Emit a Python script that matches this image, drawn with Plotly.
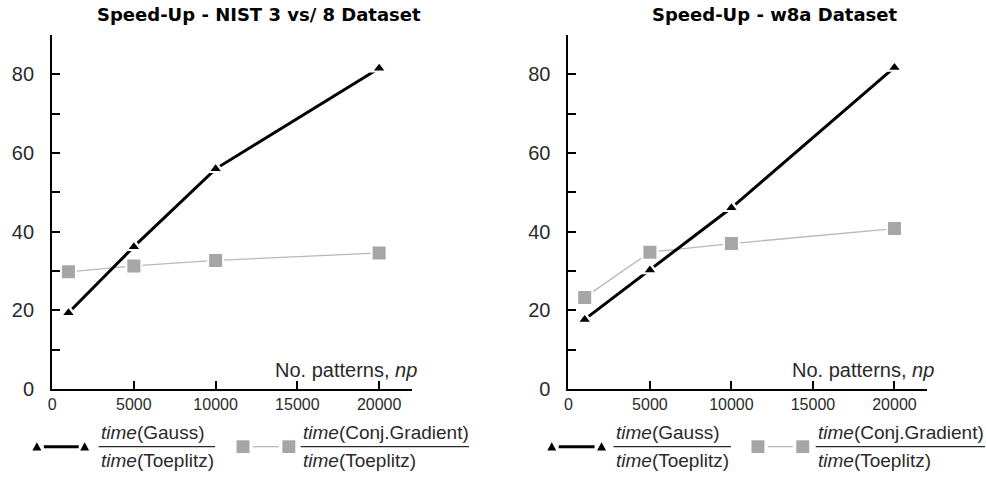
import plotly.graph_objects as go

W, H = 986, 486

# ---- data ----
np_patterns = [1000, 5000, 10000, 20000]
nist_gauss = [19.4, 36.2, 56.0, 81.6]
nist_cg = [29.8, 31.3, 32.7, 34.6]
w8a_gauss = [17.7, 30.3, 46.1, 81.8]
w8a_cg = [23.3, 34.8, 37.0, 40.8]

titles = ["Speed-Up - NIST 3 vs/ 8 Dataset", "Speed-Up - w8a Dataset"]
xtick_vals = [0, 5000, 10000, 15000, 20000]
xtick_text = ["0", "5000", "10000", "15000", "20000"]
ytick_vals = [0, 10, 20, 30, 40, 50, 60, 70, 80, 90]
ytick_text = ["0", "", "20", "", "40", "", "60", "", "80", ""]
x_label = "No. patterns, <i>np</i>"
leg_gauss = ("<i>time</i>(Gauss)", "<i>time</i>(Toeplitz)")
leg_cg = ("<i>time</i>(Conj.Gradient)", "<i>time</i>(Toeplitz)")

BLACK = "#000000"
GREY = "#a6a6a6"
GREYLINE = "#b8b8b8"
TXT = "#2a2a2a"
SANS = "Liberation Sans, Arial, sans-serif"


def px(x):
    return x / W


def py(y):
    return 1 - y / H


fig = go.Figure()

panels = [
    dict(gauss=nist_gauss, cg=nist_cg, xa="x", ya="y", x0=48.3, x1=409.5,
         title_cx=256, label_rx=417,
         leg=dict(t1=33, t2=81, l1=(40, 75), s1=240, s2=286, sl=(250, 276),
                  f1=(95, 212), f2=(298, 467))),
    dict(gauss=w8a_gauss, cg=w8a_cg, xa="x2", ya="y2", x0=566.7, x1=926.8,
         title_cx=774, label_rx=936,
         leg=dict(t1=550, t2=600, l1=(557, 593), s1=757, s2=802, sl=(767, 792),
                  f1=(612, 730), f2=(815, 985))),
]

for p in panels:
    common = dict(x=np_patterns, xaxis=p["xa"], yaxis=p["ya"], showlegend=False,
                  hoverinfo="skip")
    # conjugate gradient
    fig.add_trace(go.Scatter(y=p["cg"], mode="lines",
                             line=dict(color=GREYLINE, width=1.3), **common))
    fig.add_trace(go.Scatter(y=p["cg"], mode="markers",
                             marker=dict(symbol="square", size=17, color="white"), **common))
    fig.add_trace(go.Scatter(y=p["cg"], mode="markers",
                             marker=dict(symbol="square", size=13, color=GREY), **common))
    # gauss
    fig.add_trace(go.Scatter(y=p["gauss"], mode="lines",
                             line=dict(color=BLACK, width=3), **common))
    fig.add_trace(go.Scatter(y=p["gauss"], mode="markers",
                             marker=dict(symbol="triangle-up", size=17, color="white"), **common))
    fig.add_trace(go.Scatter(y=p["gauss"], mode="markers",
                             marker=dict(symbol="triangle-up", size=9, color=BLACK), **common))

axis_common_x = dict(range=[0, 22000], tickvals=xtick_vals, ticktext=xtick_text,
                     showgrid=False, zeroline=False, showline=True, linecolor=BLACK,
                     linewidth=2, ticks="inside", ticklen=8, tickwidth=1.5, tickcolor=BLACK,
                     tickfont=dict(family=SANS, size=16, color=TXT), fixedrange=True)
axis_common_y = dict(range=[0, 90], tickvals=ytick_vals, ticktext=ytick_text,
                     showgrid=False, zeroline=False, showline=True, linecolor=BLACK,
                     linewidth=2, ticks="inside", ticklen=8, tickwidth=1.5, tickcolor=BLACK,
                     tickfont=dict(family=SANS, size=20, color=TXT), ticklabelstandoff=12,
                     fixedrange=True)

ydom = [py(398), py(36)]
fig.update_layout(
    width=W, height=H,
    margin=dict(l=0, r=0, t=0, b=0),
    paper_bgcolor="white", plot_bgcolor="white",
    xaxis=dict(domain=[px(panels[0]["x0"]), px(panels[0]["x1"])], anchor="y", **axis_common_x),
    yaxis=dict(domain=ydom, anchor="x", **axis_common_y),
    xaxis2=dict(domain=[px(panels[1]["x0"]), px(panels[1]["x1"])], anchor="y2", **axis_common_x),
    yaxis2=dict(domain=ydom, anchor="x2", **axis_common_y),
)

annotations = []
shapes = []


def tri_path(cx, cy, s=4.5):
    pts = [(cx - s, cy + s * 0.85), (cx + s, cy + s * 0.85), (cx, cy - s)]
    return "M {} {} L {} {} L {} {} Z".format(
        px(pts[0][0]), py(pts[0][1]), px(pts[1][0]), py(pts[1][1]), px(pts[2][0]), py(pts[2][1]))


for i, p in enumerate(panels):
    annotations.append(dict(text="<b>" + titles[i] + "</b>", x=px(p["title_cx"]), y=py(15),
                            xref="paper", yref="paper", xanchor="center", yanchor="middle",
                            showarrow=False,
                            font=dict(family="DejaVu Sans", size=18, color=BLACK)))
    annotations.append(dict(text=x_label, x=px(p["label_rx"]), y=py(379), xref="paper",
                            yref="paper", xanchor="right", yanchor="middle", showarrow=False,
                            font=dict(family=SANS, size=20, color=TXT)))
    lg = p["leg"]
    ly = 457
    # gauss legend glyph
    shapes.append(dict(type="line", xref="paper", yref="paper", x0=px(lg["l1"][0]),
                       x1=px(lg["l1"][1]), y0=py(ly), y1=py(ly),
                       line=dict(color=BLACK, width=3)))
    for tx in (lg["t1"], lg["t2"]):
        shapes.append(dict(type="path", xref="paper", yref="paper", path=tri_path(tx, ly),
                           fillcolor=BLACK, line=dict(width=0)))
    # cg legend glyph
    shapes.append(dict(type="line", xref="paper", yref="paper", x0=px(lg["sl"][0]),
                       x1=px(lg["sl"][1]), y0=py(ly), y1=py(ly),
                       line=dict(color=GREYLINE, width=1.3)))
    for sx in (lg["s1"], lg["s2"]):
        shapes.append(dict(type="rect", xref="paper", yref="paper", x0=px(sx - 6.5),
                           x1=px(sx + 6.5), y0=py(ly + 6.5), y1=py(ly - 6.5),
                           fillcolor=GREY, line=dict(width=0)))
    # fractions
    for (fx0, fx1), (num, den) in ((lg["f1"], leg_gauss), (lg["f2"], leg_cg)):
        shapes.append(dict(type="line", xref="paper", yref="paper", x0=px(fx0), x1=px(fx1),
                           y0=py(ly), y1=py(ly), line=dict(color=TXT, width=1.2)))
        annotations.append(dict(text=num, x=px(fx0), y=py(ly - 2), xref="paper", yref="paper",
                                xanchor="left", yanchor="bottom", showarrow=False,
                                font=dict(family=SANS, size=19, color=TXT)))
        annotations.append(dict(text=den, x=px(fx0), y=py(ly + 1), xref="paper", yref="paper",
                                xanchor="left", yanchor="top", showarrow=False,
                                font=dict(family=SANS, size=19, color=TXT)))

fig.update_layout(annotations=annotations, shapes=shapes)
fig.write_html("out.html")
